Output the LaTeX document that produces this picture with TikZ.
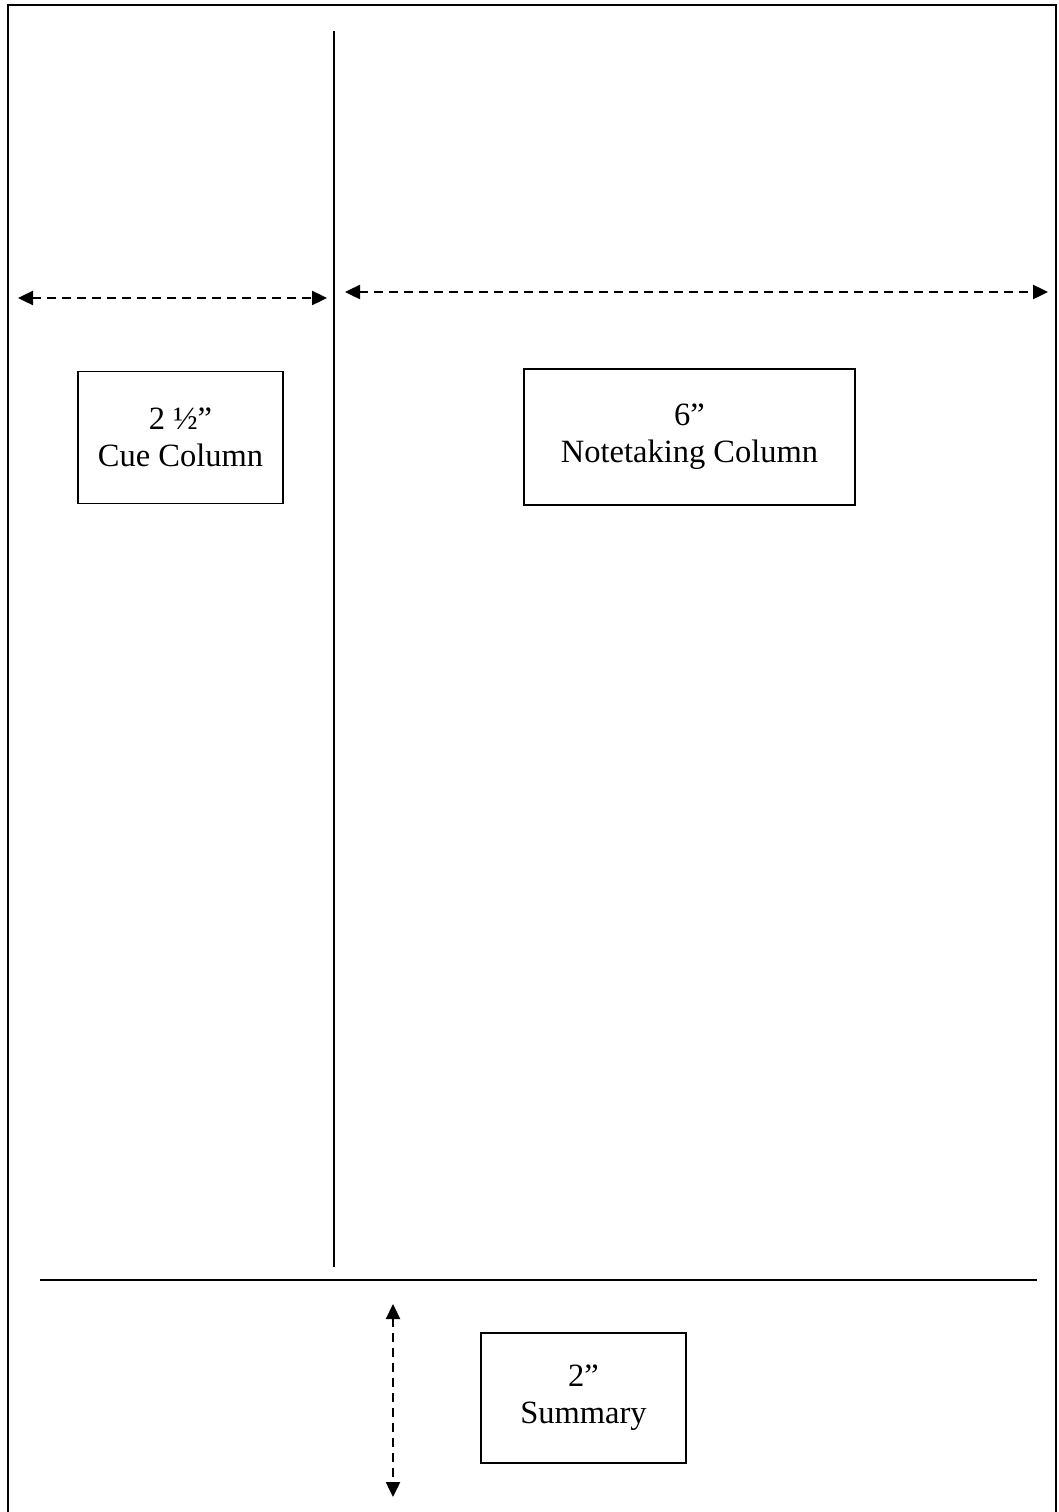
\documentclass[tikz,border=0pt]{standalone}
\usepackage{fontspec}
\setmainfont{Liberation Serif}
\usetikzlibrary{arrows.meta}
\begin{document}
\begin{tikzpicture}[x=1pt,y=-1pt,
  labelbox/.style={draw=black,line width=1.3pt,inner sep=0pt,align=center,
    font=\fontsize{32.5}{37}\selectfont},
  dimarrow/.style={line width=2.4pt,dash pattern=on 9pt off 6pt,
    {Triangle[length=15pt,width=14pt]}-{Triangle[length=15pt,width=14pt]}},
  rule/.style={line width=2.2pt}]
\useasboundingbox (0,0) rectangle (1058,1512);
\fill[white] (0,0) rectangle (1058,1512);
% frame (open at the bottom edge)
\draw[line width=1.6pt] (8,1515) -- (8,5) -- (1056,5) -- (1056,1515);
% divider lines
\coordinate (vtop) at (334,31);
\coordinate (vbot) at (334,1267);
\draw[rule] (vtop) -- (vbot);
\coordinate (hl) at (40,1280);
\coordinate (hr) at (1037,1280);
\draw[line width=2.6pt] (hl) -- (hr);
% dimension arrows
\coordinate (a1) at (18,298);
\coordinate (a2) at (327,298);
\draw[dimarrow] (a1) -- (a2);
\coordinate (b1) at (345,292);
\coordinate (b2) at (1048,292);
\draw[dimarrow] (b1) -- (b2);
\coordinate (c1) at (393,1304);
\coordinate (c2) at (393,1497);
\draw[dimarrow] (c1) -- (c2);
% labels
\node[labelbox,minimum width=205pt,minimum height=132pt] (cue) at (180.5,437.5) {2 ½”\\Cue Column};
\node[labelbox,minimum width=331pt,minimum height=136pt] (notes) at (689.5,437) {6”\\Notetaking Column};
\node[labelbox,minimum width=205pt,minimum height=130pt] (summ) at (583.5,1398) {2”\\Summary};
\end{tikzpicture}
\end{document}
